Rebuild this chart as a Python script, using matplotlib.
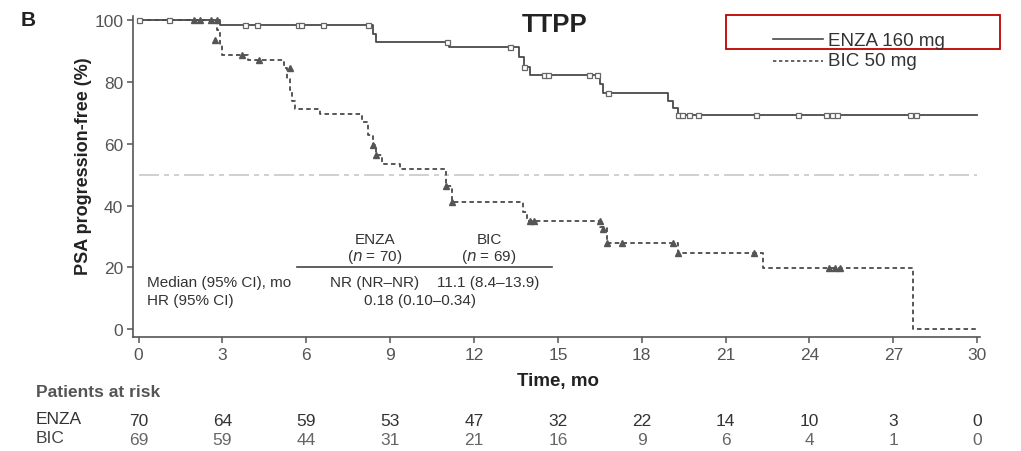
import matplotlib
matplotlib.use('Agg')
import matplotlib.pyplot as plt
from matplotlib.lines import Line2D
from matplotlib.patches import Rectangle
import numpy as np

plt.rcParams['font.family'] = ['Liberation Sans', 'DejaVu Sans']

# --- data ---
enza_t = [0, 2.9, 8.4, 8.5, 11.1, 13.6, 13.8, 14.0, 16.5, 16.6, 18.95, 19.1, 19.3, 30]
enza_s = [100, 98.6, 95.7, 93.1, 91.2, 88.0, 85.0, 82.2, 79.5, 76.4, 74.0, 71.5, 69.4, 69.4]
enza_cens_t = [0, 1.1, 3.8, 4.25, 5.7, 5.8, 6.6, 8.2, 11.05, 13.3, 13.8, 14.5, 14.65,
               16.1, 16.4, 16.8, 19.3, 19.45, 19.7, 20.0, 22.1, 23.6, 24.6, 24.8, 25.0, 27.6, 27.8]
enza_cens_s = [100, 100, 98.6, 98.6, 98.6, 98.6, 98.6, 98.6, 93.1, 91.2, 85.0, 82.2, 82.2,
               82.2, 82.2, 76.4, 69.4, 69.4, 69.4, 69.4, 69.4, 69.4, 69.4, 69.4, 69.4, 69.4, 69.4]

bic_t = [0, 2.8, 2.9, 3.0, 3.9, 5.2, 5.3, 5.4, 5.5, 5.6, 6.5, 8.0, 8.2, 8.4, 8.5, 8.7,
         9.35, 11.0, 11.2, 13.75, 13.9, 16.5, 16.75, 19.3, 22.35, 27.7, 30]
bic_s = [100, 97.0, 92.0, 88.7, 87.1, 84.4, 81.0, 77.5, 74.0, 71.4, 69.8, 67.0, 63.0,
         59.5, 56.3, 53.5, 51.7, 46.3, 41.3, 38.0, 35.0, 33.0, 28.0, 24.5, 19.6, 0, 0]
bic_cens_t = [2.0, 2.2, 2.6, 2.8, 2.75, 3.7, 4.3, 5.4, 8.4, 8.5, 11.0, 11.2, 14.0, 14.15,
              16.5, 16.6, 16.75, 17.3, 19.1, 19.3, 22.0, 24.7, 24.9, 25.1]
bic_cens_s = [100, 100, 100, 100, 93.6, 88.7, 87.1, 84.4, 59.5, 56.3, 46.3, 41.3, 35.0, 35.0,
              35.0, 32.5, 28.0, 28.0, 28.0, 24.5, 24.5, 19.6, 19.6, 19.6]

risk_times = [0, 3, 6, 9, 12, 15, 18, 21, 24, 27, 30]
risk_enza = [70, 64, 59, 53, 47, 32, 22, 14, 10, 3, 0]
risk_bic = [69, 59, 44, 31, 21, 16, 9, 6, 4, 1, 0]

W, H = 1021, 452
fig = plt.figure(figsize=(W / 100, H / 100), dpi=100)


def px(x, y):
    return x / W, 1 - y / H


ax = fig.add_axes([133 / W, (H - 338) / H, (980 - 133) / W, (338 - 17) / H])

line_col = '#4a4a4a'
ax.plot(enza_t, enza_s, drawstyle='steps-post', color=line_col, lw=1.3, zorder=3)
ax.plot(bic_t, bic_s, drawstyle='steps-post', color=line_col, lw=1.3,
        linestyle=(0, (2.5, 1.8)), zorder=3)
ax.plot(enza_cens_t, enza_cens_s, 's', ms=3.6, mfc='white', mec='#666666', mew=0.9, zorder=4)
ax.plot(bic_cens_t, bic_cens_s, '^', ms=5, color='#555555', zorder=5)

# median reference line
ax.plot([0, 30], [50, 50], color='#c8c8c8', lw=1.2,
        linestyle=(0, (12, 3, 3, 3, 3, 3)), zorder=1)

ax.set_xlim(-0.2, 30.1)
ax.set_ylim(-2.6, 101.4)
ax.set_xticks(risk_times)
ax.set_yticks([0, 20, 40, 60, 80, 100])
ax.spines['top'].set_visible(False)
ax.spines['right'].set_visible(False)
for s in ('left', 'bottom'):
    ax.spines[s].set_color('#555555')
    ax.spines[s].set_linewidth(1.2)
ax.tick_params(direction='out', length=4, width=1.1, color='#555555',
               labelsize=12.5, labelcolor='#555555', pad=3)
ax.set_ylabel('PSA progression-free (%)', fontsize=13, fontweight='bold', color='#222222')
ax.set_xlabel('Time, mo', fontsize=13.5, fontweight='bold', color='#222222')
ax.yaxis.set_label_coords(-0.048, 0.535)
ax.xaxis.set_label_coords(0.502, -0.108)

# titles
fig.text(*px(21, 21), 'B', fontsize=15, fontweight='bold', va='center', ha='left',
         color='#222222')
fig.text(*px(555, 25), 'TTPP', fontsize=18.5, fontweight='bold', va='center', ha='center',
         color='#222222')

# legend with red box
fig.patches.append(Rectangle(px(726, 50), (1000 - 726) / W, 34 / H, transform=fig.transFigure,
                             fill=False, edgecolor='#c00000', lw=1.3))
fig.lines.append(Line2D([773 / W, 823 / W], [1 - 40 / H] * 2, transform=fig.transFigure,
                        color=line_col, lw=1.2))
fig.lines.append(Line2D([773 / W, 823 / W], [1 - 62 / H] * 2, transform=fig.transFigure,
                        color=line_col, lw=1.2, linestyle=(0, (2, 1.6))))
fig.text(*px(828, 41), 'ENZA 160 mg', fontsize=13.5, va='center', ha='left', color='#333333')
fig.text(*px(828, 62), 'BIC 50 mg', fontsize=13.5, va='center', ha='left', color='#333333')

# in-plot summary table
tc = '#333333'
fs = 11
fig.text(*px(375, 240), 'ENZA', fontsize=fs, ha='center', va='center', color=tc)
fig.text(*px(375, 257), '($\\it{n}$ = 70)', fontsize=fs, ha='center', va='center', color=tc)
fig.text(*px(489, 240), 'BIC', fontsize=fs, ha='center', va='center', color=tc)
fig.text(*px(489, 257), '($\\it{n}$ = 69)', fontsize=fs, ha='center', va='center', color=tc)
fig.lines.append(Line2D([297 / W, 552 / W], [1 - 268 / H] * 2, transform=fig.transFigure,
                        color='#444444', lw=1.2))
fig.text(*px(147, 283), 'Median (95% CI), mo', fontsize=fs, ha='left', va='center', color=tc)
fig.text(*px(375, 283), 'NR (NR–NR)', fontsize=fs, ha='center', va='center', color=tc)
fig.text(*px(488, 283), '11.1 (8.4–13.9)', fontsize=fs, ha='center', va='center', color=tc)
fig.text(*px(147, 301), 'HR (95% CI)', fontsize=fs, ha='left', va='center', color=tc)
fig.text(*px(420, 301), '0.18 (0.10–0.34)', fontsize=fs, ha='center', va='center', color=tc)

# patients at risk
rs = 12.5
fig.text(*px(36, 393), 'Patients at risk', fontsize=rs, fontweight='bold', ha='left',
         va='center', color='#555555')
fig.text(*px(36, 420), 'ENZA', fontsize=rs, ha='left', va='center', color='#333333')
fig.text(*px(36, 439), 'BIC', fontsize=rs, ha='left', va='center', color='#444444')
for t, ne, nb in zip(risk_times, risk_enza, risk_bic):
    xf = ax.transData.transform((t, 0))[0] / fig.dpi / fig.get_figwidth()
    fig.text(xf, 1 - 422 / H, str(ne), fontsize=rs, ha='center', va='center', color='#333333')
    fig.text(xf, 1 - 441 / H, str(nb), fontsize=rs, ha='center', va='center', color='#666666')

fig.savefig('out.png', dpi=100)
